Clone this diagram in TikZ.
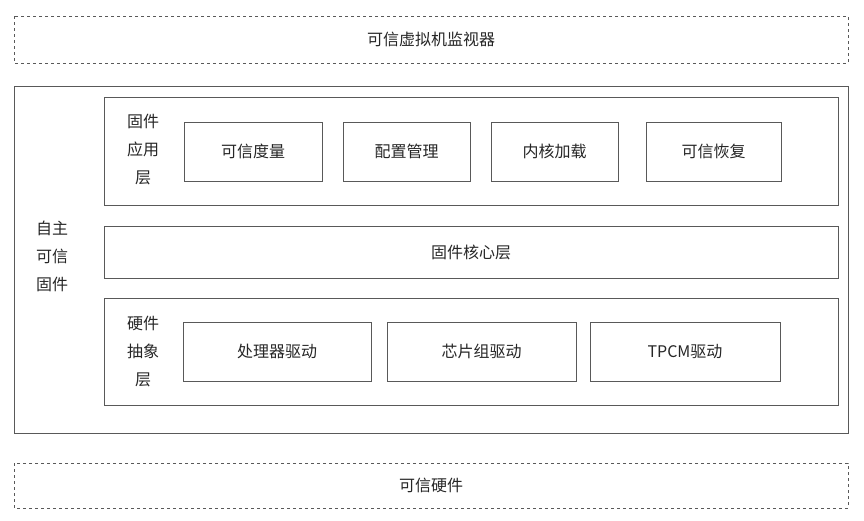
\documentclass[tikz,border=0pt]{standalone}
\usepackage{fontspec}
\setmainfont{Noto Sans CJK SC}
\begin{document}
\begin{tikzpicture}[x=1pt,y=-1pt,
  bx/.style={draw=black!65,line width=0.9pt,text=black!85,font=\fontsize{16}{20}\selectfont},
  dbx/.style={bx,dashed},
  lb/.style={text=black!85,font=\fontsize{16}{28}\selectfont,align=center}]
\useasboundingbox (0,0) rectangle (864,520);
\draw[dbx] (14,16) rectangle (848,63) node[midway] (tvm) {可信虚拟机监视器};
\draw[bx] (14,86) rectangle (848,433);
\node[lb] (fw) at (52,256) {自主\\可信\\固件};
\draw[bx] (104,97) rectangle (838,205);
\node[lb] (app) at (143,150) {固件\\应用\\层};
\draw[bx] (184,122) rectangle (322,181) node[midway] (a1) {可信度量};
\draw[bx] (343,122) rectangle (470,181) node[midway] (a2) {配置管理};
\draw[bx] (491,122) rectangle (618,181) node[midway] (a3) {内核加载};
\draw[bx] (646,122) rectangle (781,181) node[midway] (a4) {可信恢复};
\draw[bx] (104,226) rectangle (838,278) node[midway] (core) {固件核心层};
\draw[bx] (104,298) rectangle (838,405);
\node[lb] (hw) at (143,352) {硬件\\抽象\\层};
\draw[bx] (183,322) rectangle (371,381) node[midway] (h1) {处理器驱动};
\draw[bx] (387,322) rectangle (576,381) node[midway] (h2) {芯片组驱动};
\draw[bx] (590,322) rectangle (780,381) node[midway] (h3) {TPCM驱动};
\draw[dbx] (14,463) rectangle (848,508) node[midway] (th) {可信硬件};
\end{tikzpicture}
\end{document}
